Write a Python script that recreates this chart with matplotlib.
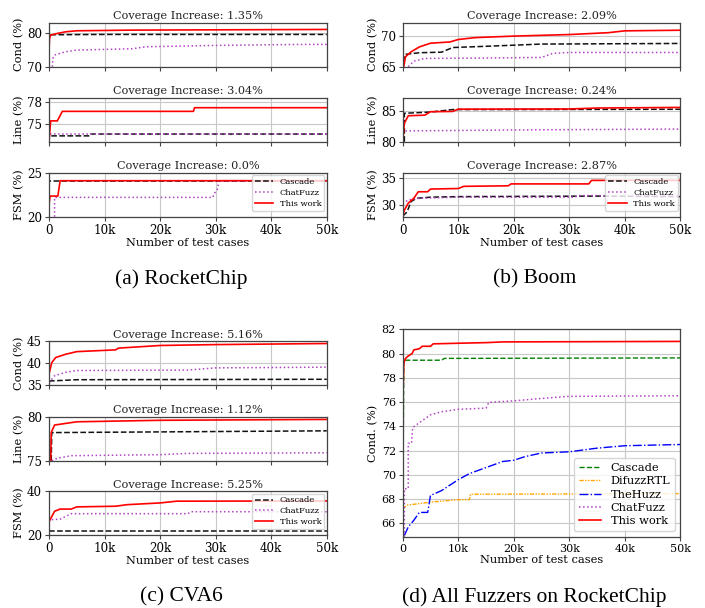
import matplotlib
matplotlib.use("Agg")
import matplotlib.pyplot as plt
from matplotlib.ticker import FuncFormatter

plt.rcParams['font.family'] = ['DejaVu Serif']

# ---------------- data ----------------
x_ticks = [0, 10000, 20000, 30000, 40000, 50000]
x_tick_labels = ["0", "10k", "20k", "30k", "40k", "50k"]

# (a) RocketChip
rc_cond_this_x = [0, 100, 300, 800, 1500, 3000, 5000, 15000, 50000]
rc_cond_this = [75.0, 78.5, 79.5, 79.7, 80.0, 80.5, 80.8, 81.0, 81.2]
rc_cond_casc_x = [0, 50, 300, 10000, 50000]
rc_cond_casc = [70.0, 79.3, 79.6, 79.7, 79.7]
rc_cond_chat_x = [600, 700, 1000, 3000, 5000, 15000, 17500, 30000, 45000, 50000]
rc_cond_chat = [70.0, 72.5, 73.5, 74.5, 75.0, 75.4, 76.0, 76.4, 76.7, 76.7]

rc_line_this_x = [0, 300, 1500, 2400, 26000, 26200, 50000]
rc_line_this = [72.6, 75.45, 75.45, 76.75, 76.75, 77.25, 77.25]
rc_line_casc_x = [0, 0, 7400, 7500, 50000]
rc_line_casc = [72.6, 73.4, 73.4, 73.65, 73.65]
rc_line_chat_x = [200, 50000]
rc_line_chat = [73.65, 73.65]

rc_fsm_this_x = [0, 200, 1600, 2000, 50000]
rc_fsm_this = [21.4, 22.35, 22.35, 24.1, 24.1]
rc_fsm_casc_x = [0, 0, 50000]
rc_fsm_casc = [20.0, 24.1, 24.1]
rc_fsm_chat_x = [1000, 1000, 29500, 29700, 30300, 30600, 50000]
rc_fsm_chat = [20.0, 22.2, 22.2, 22.6, 23.1, 24.1, 24.1]

# (b) Boom
bo_cond_this_x = [200, 500, 1500, 3000, 5000, 8500, 10000, 13000, 20000, 30000, 37000, 40000, 50000]
bo_cond_this = [65.0, 66.6, 67.4, 68.2, 68.8, 69.0, 69.4, 69.7, 69.95, 70.2, 70.5, 70.8, 70.9]
bo_cond_casc_x = [0, 500, 3000, 7000, 9000, 15000, 25000, 50000]
bo_cond_casc = [65.8, 67.0, 67.26, 67.35, 68.1, 68.3, 68.66, 68.76]
bo_cond_chat_x = [1000, 2000, 4000, 15000, 25000, 27000, 30000, 50000]
bo_cond_chat = [65.0, 65.9, 66.34, 66.4, 66.5, 67.15, 67.3, 67.3]

bo_line_this_x = [0, 300, 1000, 4000, 5000, 9000, 10000, 30000, 35000, 50000]
bo_line_this = [80.0, 83.0, 84.2, 84.3, 84.85, 84.9, 85.27, 85.3, 85.45, 85.55]
bo_line_casc_x = [300, 300, 5000, 9000, 50000]
bo_line_casc = [80.0, 84.6, 84.8, 85.2, 85.25]
bo_line_chat_x = [500, 20000, 50000]
bo_line_chat = [81.75, 81.9, 82.05]

bo_fsm_this_x = [0, 300, 1000, 2000, 2800, 4500, 5000, 10000, 11000, 19000, 19500, 33500, 34000, 50000]
bo_fsm_this = [28.0, 29.1, 30.4, 31.3, 32.5, 32.5, 33.0, 33.1, 33.5, 33.6, 33.95, 33.95, 34.6, 34.6]
bo_fsm_casc_x = [0, 800, 1500, 2500, 5000, 10000, 35000, 50000]
bo_fsm_casc = [28.0, 28.8, 30.7, 31.3, 31.5, 31.6, 31.7, 31.6]
bo_fsm_chat_x = [0, 1000, 3000, 10000, 31000, 31500, 50000]
bo_fsm_chat = [30.3, 31.0, 31.3, 31.5, 31.5, 31.8, 31.75]

# (c) CVA6
cv_cond_this_x = [0, 500, 1200, 3000, 5000, 12000, 12500, 20000, 30000, 50000]
cv_cond_this = [37.5, 40.1, 41.25, 42.0, 42.6, 43.0, 43.4, 44.0, 44.2, 44.45]
cv_cond_casc_x = [0, 5000, 50000]
cv_cond_casc = [35.9, 36.2, 36.3]
cv_cond_chat_x = [0, 1000, 3000, 5000, 25000, 30000, 50000]
cv_cond_chat = [35.5, 37.1, 37.9, 38.3, 38.4, 38.9, 39.06]

cv_line_this_x = [300, 400, 1000, 5000, 20000, 50000]
cv_line_this = [75.0, 78.2, 79.06, 79.43, 79.6, 79.7]
cv_line_casc_x = [400, 500, 50000]
cv_line_casc = [75.0, 78.2, 78.4]
cv_line_chat_x = [500, 1500, 4000, 20000, 25000, 50000]
cv_line_chat = [75.0, 75.27, 75.57, 75.68, 75.83, 75.9]

cv_fsm_this_x = [0, 1000, 2000, 4000, 5000, 12000, 14000, 20000, 23000, 50000]
cv_fsm_this = [26.0, 30.8, 31.8, 31.8, 32.8, 33.1, 33.8, 34.6, 35.4, 35.5]
cv_fsm_casc_x = [0, 50000]
cv_fsm_casc = [21.85, 21.85]
cv_fsm_chat_x = [500, 2000, 4000, 25000, 25500, 50000]
cv_fsm_chat = [27.0, 27.2, 29.7, 29.7, 30.6, 30.6]

# (d) All fuzzers on RocketChip
all_casc_x = [0, 200, 7000, 7500, 50000]
all_casc = [65.0, 79.45, 79.45, 79.6, 79.64]
all_difuzz_x = [0, 800, 5000, 10000, 12000, 12200, 50000]
all_difuzz = [67.2, 67.5, 67.75, 67.95, 67.95, 68.4, 68.45]
all_huzz_x = [300, 1000, 2000, 3000, 4500, 5000, 7000, 9000, 10000, 12000, 15000,
              18000, 20000, 22000, 25000, 30000, 35000, 40000, 50000]
all_huzz = [65.0, 65.7, 66.25, 66.9, 66.9, 68.3, 68.7, 69.3, 69.6, 70.1, 70.6,
            71.1, 71.2, 71.5, 71.8, 71.9, 72.2, 72.4, 72.5]
all_chat_x = [300, 300, 1000, 1000, 1600, 1800, 3000, 5000, 7000, 10000, 15000,
              15500, 20000, 25000, 30000, 50000]
all_chat = [64.9, 68.85, 68.85, 72.6, 72.6, 73.9, 74.3, 74.95, 75.2, 75.4, 75.5,
            75.97, 76.1, 76.3, 76.47, 76.52]
all_this_x = [0, 200, 500, 1000, 1700, 2000, 3000, 3500, 5000, 5500, 10000, 15000, 18000, 50000]
all_this = [75.5, 79.2, 79.6, 79.8, 80.0, 80.3, 80.4, 80.6, 80.6, 80.8, 80.85, 80.9, 80.96, 81.0]

# ---------------- styling ----------------
RED = '#ff0000'
PURPLE = '#b144c4'
BLACK = '#111111'

fig = plt.figure(figsize=(7.05, 6.08), dpi=100)
xfmt = FuncFormatter(lambda v, p: x_tick_labels[x_ticks.index(int(v))] if int(v) in x_ticks else "")


def style(ax, ylim, yticks, ylabel, show_x, tick_fs=8.6):
    ax.set_xlim(0, 50000)
    ax.set_ylim(*ylim)
    ax.set_xticks(x_ticks)
    ax.set_yticks(yticks)
    ax.grid(True, color='#c8c8c8', lw=0.8)
    ax.set_axisbelow(True)
    for s in ax.spines.values():
        s.set_color('#444444')
        s.set_linewidth(0.9)
    ax.tick_params(labelsize=tick_fs, length=3, color='#444444', pad=2)
    ax.set_ylabel(ylabel, fontsize=8.2, labelpad=2)
    if show_x:
        ax.xaxis.set_major_formatter(xfmt)
        ax.set_xlabel("Number of test cases", fontsize=8.2, labelpad=1)
    else:
        ax.set_xticklabels([])


def triple(left, bottoms, width, height, data, titles, ylims, ytickss):
    axes = []
    for i, (b, d, t, yl, yt) in enumerate(zip(bottoms, data, titles, ylims, ytickss)):
        ax = fig.add_axes([left, b, width, height])
        (cx, cy), (hx, hy), (tx, ty) = d
        ax.plot(cx, cy, color=BLACK, ls='--', lw=1.1, label='Cascade')
        ax.plot(hx, hy, color=PURPLE, ls=':', lw=1.1, label='ChatFuzz')
        ax.plot(tx, ty, color=RED, ls='-', lw=1.2, label='This work')
        ax.set_title(t, fontsize=8.1, pad=2.5, color='#222222')
        style(ax, yl, yt, ['Cond (%)', 'Line (%)', 'FSM (%)'][i], i == 2)
        axes.append(ax)
    leg = axes[2].legend(loc='upper right', fontsize=6, frameon=True, borderaxespad=0.3,
                         labelspacing=0.35, handlelength=2.2, borderpad=0.35)
    leg.get_frame().set_edgecolor('#cccccc')
    return axes


top_bottoms = [0.8903, 0.7669, 0.6436]
bot_bottoms = [0.3668, 0.2423, 0.1201]
L_left, R_left = 0.0695, 0.5712
W = 0.394
H = 0.0722

triple(L_left, top_bottoms, W, H,
       [((rc_cond_casc_x, rc_cond_casc), (rc_cond_chat_x, rc_cond_chat), (rc_cond_this_x, rc_cond_this)),
        ((rc_line_casc_x, rc_line_casc), (rc_line_chat_x, rc_line_chat), (rc_line_this_x, rc_line_this)),
        ((rc_fsm_casc_x, rc_fsm_casc), (rc_fsm_chat_x, rc_fsm_chat), (rc_fsm_this_x, rc_fsm_this))],
       ["Coverage Increase: 1.35%", "Coverage Increase: 3.04%", "Coverage Increase: 0.0%"],
       [(70, 83.2), (72.6, 78.6), (20, 25)],
       [[70, 80], [75, 78], [20, 25]])

triple(R_left, top_bottoms, W, H,
       [((bo_cond_casc_x, bo_cond_casc), (bo_cond_chat_x, bo_cond_chat), (bo_cond_this_x, bo_cond_this)),
        ((bo_line_casc_x, bo_line_casc), (bo_line_chat_x, bo_line_chat), (bo_line_this_x, bo_line_this)),
        ((bo_fsm_casc_x, bo_fsm_casc), (bo_fsm_chat_x, bo_fsm_chat), (bo_fsm_this_x, bo_fsm_this))],
       ["Coverage Increase: 2.09%", "Coverage Increase: 0.24%", "Coverage Increase: 2.87%"],
       [(65, 72.1), (80, 87.1), (27.9, 36.0)],
       [[65, 70], [80, 85], [30, 35]])

triple(L_left, bot_bottoms, W, H,
       [((cv_cond_casc_x, cv_cond_casc), (cv_cond_chat_x, cv_cond_chat), (cv_cond_this_x, cv_cond_this)),
        ((cv_line_casc_x, cv_line_casc), (cv_line_chat_x, cv_line_chat), (cv_line_this_x, cv_line_this)),
        ((cv_fsm_casc_x, cv_fsm_casc), (cv_fsm_chat_x, cv_fsm_chat), (cv_fsm_this_x, cv_fsm_this))],
       ["Coverage Increase: 5.16%", "Coverage Increase: 1.12%", "Coverage Increase: 5.25%"],
       [(35, 45), (75, 80), (20, 40)],
       [[35, 40, 45], [75, 80], [20, 40]])

# (d)
axd = fig.add_axes([R_left, 0.1173, W, 0.3411])
axd.plot(all_casc_x, all_casc, color='#008000', ls='--', lw=1.0, label='Cascade')
axd.plot(all_difuzz_x, all_difuzz, color='#ffa500', ls=(0, (3, 1, 1, 1, 1, 1)), lw=1.0, label='DifuzzRTL')
axd.plot(all_huzz_x, all_huzz, color='#0000ff', ls='-.', lw=1.0, label='TheHuzz')
axd.plot(all_chat_x, all_chat, color=PURPLE, ls=':', lw=1.1, label='ChatFuzz')
axd.plot(all_this_x, all_this, color=RED, ls='-', lw=1.2, label='This work')
style(axd, (64.9, 82), [66, 68, 70, 72, 74, 76, 78, 80, 82], 'Cond. (%)', True, tick_fs=8.0)
legd = axd.legend(loc='lower right', fontsize=8.2, frameon=True, labelspacing=0.3,
                  handlelength=2.0, borderpad=0.4)
legd.get_frame().set_edgecolor('#cccccc')

# captions
cap_kw = dict(fontsize=15.5, family='Liberation Serif', ha='center', va='center')
fig.text(181 / 705, 1 - 279 / 608, "(a) RocketChip", **cap_kw)
fig.text(535 / 705, 1 - 279 / 608, "(b) Boom", **cap_kw)
fig.text(181 / 705, 1 - 597 / 608, "(c) CVA6", **cap_kw)
fig.text(534 / 705, 1 - 597 / 608, "(d) All Fuzzers on RocketChip", **cap_kw)

fig.savefig("out.png", dpi=100)
